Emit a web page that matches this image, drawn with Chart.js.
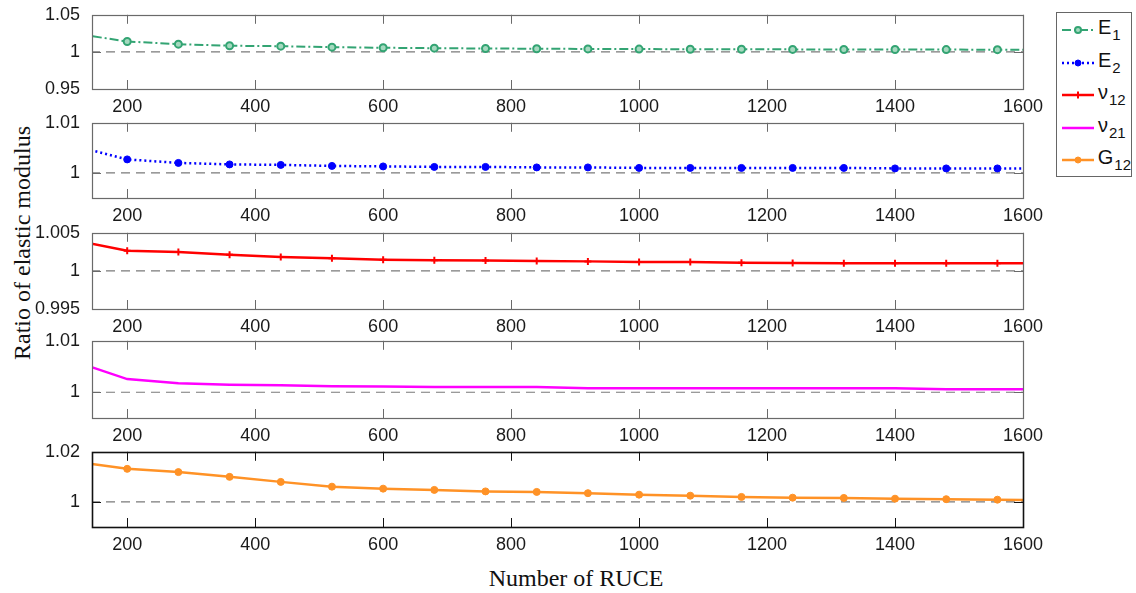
<!DOCTYPE html>
<html>
<head>
<meta charset="utf-8">
<script src="https://cdn.jsdelivr.net/npm/chart.js@4.4.1/dist/chart.umd.min.js"></script>
<style>
    body {
        margin: 0;
        width: 1136px;
        height: 593px;
        position: relative;
        overflow: hidden;
        background: #fff;
        font-family: "Liberation Sans", Arial, sans-serif;
    }
    /* panels overlap a little, so let the lower ones show through */
    canvas.panel { position: absolute; left: 0; mix-blend-mode: multiply; background: transparent; }
    #yTitle {
        position: absolute;
        left: 22px;
        top: 243px;
        transform: translate(-50%, -50%) rotate(-90deg);
        white-space: nowrap;
        font: 24px "Liberation Serif", "Times New Roman", serif;
        color: #111;
    }
    #xTitle {
        position: absolute;
        left: 576px;
        top: 578px;
        transform: translate(-50%, -50%);
        white-space: nowrap;
        font: 24px "Liberation Serif", "Times New Roman", serif;
        color: #111;
    }
    #legend {
        position: absolute;
        left: 1056px;
        top: 12px;
        width: 76px;
        height: 165px;
        border: 1px solid #666;
        box-sizing: border-box;
        padding-top: 1px;
    }
    .row { height: 32.5px; display: flex; align-items: center; }
    .row svg { margin-left: 5px; margin-right: 4px; }
    .row span { font-size: 20px; color: #111; line-height: 1; position: relative; top: -3px; }
    .row sub { font-size: 15px; position: relative; top: 6px; vertical-align: baseline; margin-left: 1px; }
</style>
</head>
<body>
<div id="yTitle">Ratio of elastic modulus</div>
<div id="xTitle">Number of RUCE</div>
<div id="legend"></div>

<script>
// number of RUCE used for each sample
const rucePoints = [120, 200, 280, 360, 440, 520, 600, 680, 760, 840, 920, 1000, 1080, 1160, 1240, 1320, 1400, 1480, 1560, 1640];
const xTicks = [200, 400, 600, 800, 1000, 1200, 1400, 1600];

// ratio of each elastic constant to its reference value
const e1Ratio = [1.0245, 1.0140, 1.0104, 1.0083, 1.0077, 1.0064, 1.0056, 1.0050, 1.0046, 1.0043, 1.0040, 1.0038, 1.0036, 1.0035, 1.0034, 1.0033, 1.0032, 1.0031, 1.0030, 1.0030];
const e2Ratio = [1.0053, 1.0027, 1.0020, 1.0017, 1.0016, 1.0014, 1.0013, 1.0012, 1.0012, 1.0011, 1.0011, 1.0010, 1.0010, 1.0010, 1.0010, 1.0010, 1.0009, 1.0009, 1.0009, 1.0009];
const nu12Ratio = [1.0040, 1.00264, 1.00247, 1.00212, 1.00182, 1.00165, 1.00147, 1.0014, 1.00135, 1.0013, 1.00125, 1.00117, 1.00117, 1.00108, 1.00104, 1.0010, 1.0010, 1.0010, 1.0010, 1.0010];
const nu21Ratio = [1.0059, 1.00256, 1.00173, 1.00148, 1.00135, 1.00115, 1.0011, 1.0010, 1.0010, 1.0010, 1.0008, 1.0008, 1.0008, 1.0008, 1.0008, 1.0008, 1.0008, 1.0006, 1.0006, 1.0006];
const g12Ratio = [1.0160, 1.0132, 1.0119, 1.0100, 1.0080, 1.0061, 1.0053, 1.0048, 1.0042, 1.0040, 1.0035, 1.0029, 1.0025, 1.0020, 1.0017, 1.0016, 1.0013, 1.0011, 1.0009, 1.0007];
const referenceRatio = 1;

// y limits and labelled ticks of each subplot
const yLimits = [[0.95, 1.05], [0.995, 1.01], [0.995, 1.005], [0.995, 1.01], [0.99, 1.02]];
const yTicks = [[0.95, 1, 1.05], [1, 1.01], [0.995, 1, 1.005], [1, 1.01], [1, 1.02]];

// plot box of each subplot on the page (top, bottom)
const boxes = [[14, 89], [122, 198], [232, 309], [340, 418], [451, 527]];
const plotLeft = 92, plotRight = 1023;

const series = [
    { name: 'E', sub: '1', data: e1Ratio, color: '#33a473', width: 2, dash: [9, 3, 2, 3],
      point: 'circle', radius: 3.5, fill: '#a5d9bf', pointWidth: 2 },
    { name: 'E', sub: '2', data: e2Ratio, color: '#0000ff', width: 2.5, dash: [2, 3],
      point: 'circle', radius: 3.5, fill: '#0000ff', pointWidth: 1 },
    { name: '\u03bd', sub: '12', data: nu12Ratio, color: '#ff0000', width: 2.5, dash: [],
      point: 'cross', radius: 3.5, fill: '#ff0000', pointWidth: 2 },
    { name: '\u03bd', sub: '21', data: nu21Ratio, color: '#ff00ff', width: 2.5, dash: [],
      point: false, radius: 0, fill: '#ff00ff', pointWidth: 1 },
    { name: 'G', sub: '12', data: g12Ratio, color: '#ff9226', width: 2.5, dash: [],
      point: 'circle', radius: 3.5, fill: '#ff9226', pointWidth: 1 }
];

const tickFont = { family: '"Liberation Sans", Arial, sans-serif', size: 18 };

// box outline with MATLAB style inward tick marks
const frameTicks = {
    id: 'frameTicks',
    afterDatasetsDraw(chart, args, opts) {
        const { ctx, chartArea: a, scales: { x, y } } = chart;
        const len = 9;
        ctx.save();
        ctx.strokeStyle = opts.color;
        ctx.lineWidth = 1;
        ctx.beginPath();
        x.ticks.forEach(t => {
            const px = Math.round(x.getPixelForValue(t.value)) + 0.5;
            ctx.moveTo(px, a.top); ctx.lineTo(px, a.top + len);
            ctx.moveTo(px, a.bottom); ctx.lineTo(px, a.bottom - len);
        });
        y.ticks.forEach(t => {
            const py = Math.round(y.getPixelForValue(t.value)) + 0.5;
            ctx.moveTo(a.left, py); ctx.lineTo(a.left + len, py);
            ctx.moveTo(a.right, py); ctx.lineTo(a.right - len, py);
        });
        ctx.stroke();
        ctx.lineWidth = opts.width;
        ctx.strokeRect(Math.round(a.left) + 0.5, Math.round(a.top) + 0.5,
            Math.round(a.right - a.left), Math.round(a.bottom - a.top));
        ctx.restore();
    }
};

function makePanel(i) {
    const s = series[i];
    const [top, bottom] = boxes[i];
    const canvas = document.createElement('canvas');
    canvas.className = 'panel';
    canvas.width = 1136;
    canvas.height = bottom - top + 50;
    canvas.style.top = (top - 14) + 'px';
    document.body.appendChild(canvas);

    new Chart(canvas, {
        type: 'line',
        data: {
            datasets: [{
                data: rucePoints.map((n, k) => ({ x: n, y: s.data[k] })),
                borderColor: s.color,
                borderWidth: s.width,
                borderDash: s.dash,
                pointStyle: s.point,
                pointRadius: s.radius,
                pointBorderWidth: s.pointWidth,
                pointBorderColor: s.color,
                pointBackgroundColor: s.fill,
                tension: 0
            }, {
                data: rucePoints.map(n => ({ x: n, y: referenceRatio })),
                borderColor: '#7a7a7a',
                borderWidth: 1.2,
                borderDash: [9, 6],
                pointRadius: 0
            }]
        },
        options: {
            responsive: false,
            animation: false,
            events: [],
            layout: { padding: { top: 14, right: 1136 - plotRight, bottom: 10, left: 0 } },
            plugins: {
                legend: { display: false },
                tooltip: { enabled: false },
                frameTicks: { color: i === 4 ? '#111' : '#6a6a6a', width: i === 4 ? 1.6 : 1.2 }
            },
            scales: {
                x: {
                    type: 'linear',
                    min: 145,
                    max: 1600,
                    grid: { display: false },
                    border: { display: false },
                    afterBuildTicks: sc => { sc.ticks = xTicks.map(v => ({ value: v })); },
                    afterFit: sc => { sc.height = 26; },
                    ticks: {
                        font: tickFont,
                        color: '#1a1a1a',
                        padding: -1,
                        maxRotation: 0,
                        autoSkip: false,
                        callback: v => String(v)
                    }
                },
                y: {
                    min: yLimits[i][0],
                    max: yLimits[i][1],
                    grid: { display: false },
                    border: { display: false },
                    afterBuildTicks: sc => { sc.ticks = yTicks[i].map(v => ({ value: v })); },
                    afterFit: sc => { sc.width = plotLeft; },
                    ticks: {
                        font: tickFont,
                        color: '#1a1a1a',
                        padding: 4,
                        autoSkip: false,
                        callback: v => String(+v.toFixed(4))
                    }
                }
            }
        },
        plugins: [frameTicks]
    });
}

function buildLegend() {
    const box = document.getElementById('legend');
    series.forEach(s => {
        const row = document.createElement('div');
        row.className = 'row';
        const dash = s.dash.length ? `stroke-dasharray="${s.dash.join(' ')}"` : '';
        let marker = '';
        if (s.point === 'circle') {
            marker = `<circle cx="16" cy="6" r="${s.radius - 0.5}" fill="${s.fill}" stroke="${s.color}" stroke-width="${s.pointWidth}"/>`;
        } else if (s.point === 'cross') {
            marker = `<path d="M16 2.5V9.5M12.5 6H19.5" stroke="${s.color}" stroke-width="2"/>`;
        }
        row.innerHTML =
            `<svg width="32" height="12"><line x1="0" y1="6" x2="32" y2="6" stroke="${s.color}" stroke-width="${s.width}" ${dash}/>${marker}</svg>` +
            `<span>${s.name}<sub>${s.sub}</sub></span>`;
        box.appendChild(row);
    });
}

window.addEventListener('load', () => {
    series.forEach((s, i) => makePanel(i));
    buildLegend();
});
</script>
</body>
</html>
